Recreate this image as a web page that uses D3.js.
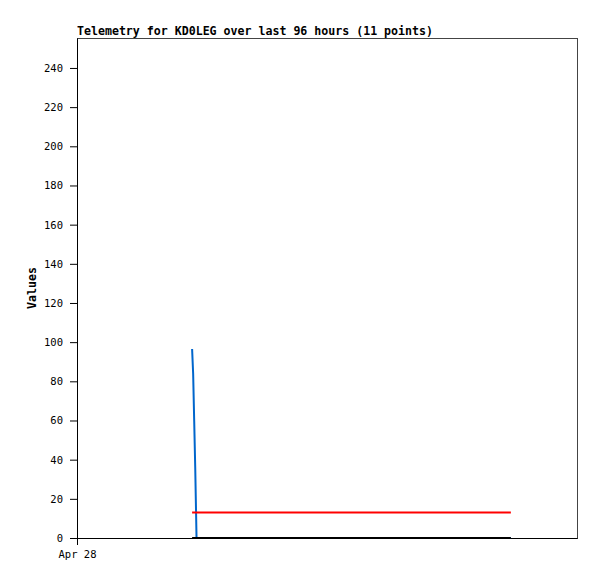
<!DOCTYPE html>
<meta charset="utf-8">
<title>Telemetry</title>
<style>
    body { margin: 0; background: #fff; }
    .tick text { font-family: "DejaVu Sans Mono", monospace; font-size: 10.5px; fill: #000; }
    .line { fill: none; stroke-width: 2px; }
</style>
<body>
<div id="chart"></div>
<script src="https://d3js.org/d3.v7.min.js"></script>
<script>
    // hours after Apr 28 00:00 for each of the 11 points
    var hours = [22.1, 22.3, 22.5, 22.7, 22.95, 30, 40, 50, 60, 72, 83.3];
    var blueVals = [96.5, 84, 60, 36, 0, 0, 0, 0, 0, 0, 0];
    var redVals = [13, 13, 13, 13, 13, 13, 13, 13, 13, 13, 13];
    var blackVals = [0, 0, 0, 0, 0, 0, 0, 0, 0, 0, 0];
    var yTicks = [0, 20, 40, 60, 80, 100, 120, 140, 160, 180, 200, 220, 240];

    var margin = { top: 38, right: 20, bottom: 41, left: 77 },
        width = 597 - margin.left - margin.right,
        height = 579 - margin.top - margin.bottom;

    var start = new Date(2024, 3, 28, 0, 0);
    var end = d3.timeHour.offset(start, 96);
    var times = hours.map(function (h) { return new Date(start.getTime() + h * 3600000); });

    var x = d3.scaleTime().domain([start, end]).range([0, width]);
    var y = d3.scaleLinear().domain([0, 255.3]).range([height, 0]);

    var svg = d3.select("#chart").append("svg")
        .attr("width", 597).attr("height", 579)
        .append("g")
        .attr("transform", "translate(" + margin.left + "," + margin.top + ")");

    // frame
    svg.append("rect")
        .attr("x", 0.5).attr("y", 0.5)
        .attr("width", width).attr("height", height)
        .attr("fill", "none").attr("stroke", "#444");

    // y axis
    var yAxis = svg.append("g")
        .call(d3.axisLeft(y).tickValues(yTicks).tickSize(7).tickSizeOuter(0).tickPadding(7));
    yAxis.select(".domain").attr("stroke", "#000");

    // x axis
    var xAxis = svg.append("g")
        .attr("transform", "translate(0," + height + ")")
        .call(d3.axisBottom(x).tickValues([start]).tickSize(7).tickSizeOuter(0).tickPadding(6)
            .tickFormat(d3.timeFormat("%b %d")));
    xAxis.select(".domain").attr("stroke", "#000");

    function series(vals) {
        return d3.line()
            .x(function (d, i) { return x(times[i]); })
            .y(function (d) { return y(d); })(vals);
    }

    svg.append("path").attr("class", "line").attr("stroke", "#0066cc").attr("d", series(blueVals));
    svg.append("path").attr("class", "line").attr("stroke", "#ff0000").attr("d", series(redVals));
    svg.append("path").attr("class", "line").attr("stroke", "#000").attr("d", series(blackVals));

    // title
    svg.append("text")
        .attr("x", 0).attr("y", -3)
        .attr("font-family", "DejaVu Sans Mono, monospace")
        .attr("font-size", "11.6px")
        .attr("font-weight", "bold")
        .text("Telemetry for KD0LEG over last 96 hours (11 points)");

    // y label
    svg.append("text")
        .attr("transform", "translate(-41," + (height / 2) + ") rotate(-90)")
        .attr("text-anchor", "middle")
        .attr("font-family", "DejaVu Sans Mono, monospace")
        .attr("font-size", "11.6px")
        .attr("font-weight", "bold")
        .text("Values");
</script>
</body>
